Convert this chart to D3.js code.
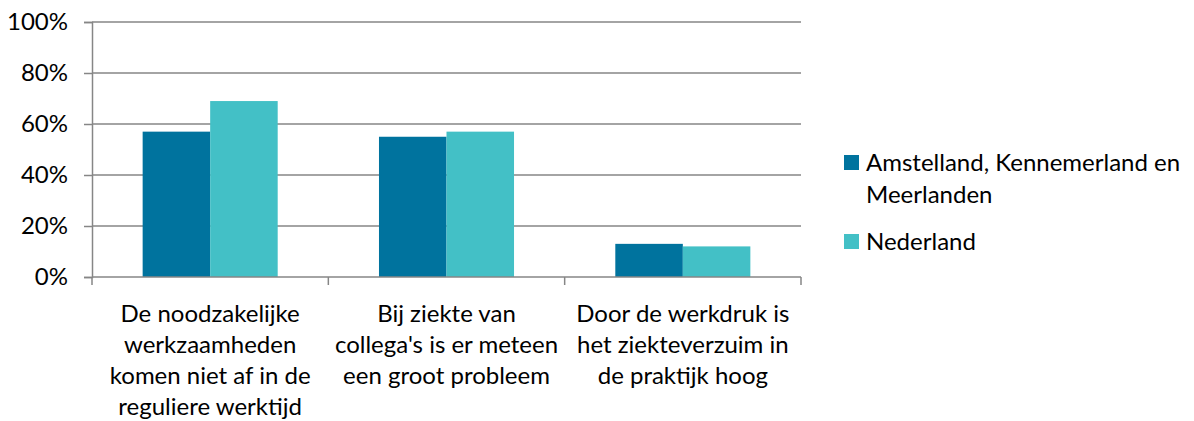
<!DOCTYPE html>
<html>
<head>
<meta charset="utf-8">
<script src="https://cdn.jsdelivr.net/npm/d3@7"></script>
<style>
  body { margin: 0; background: #fff; }
  text { font-family: Lato, "Noto Sans", sans-serif; fill: #000; }
</style>
</head>
<body>
<div id="vis"></div>
<script>
const FRAME_WIDTH = 1194;
const FRAME_HEIGHT = 421;
const MARGINS = {left: 92, right: 393, top: 22, bottom: 144};

// data
const categories = [
  ["De noodzakelijke", "werkzaamheden", "komen niet af in de", "reguliere werktijd"],
  ["Bij ziekte van", "collega's is er meteen", "een groot probleem"],
  ["Door de werkdruk is", "het ziekteverzuim in", "de praktijk hoog"]
];
const seriesNames = [["Amstelland, Kennemerland en", "Meerlanden"], ["Nederland"]];
const amstelland = [0.57, 0.55, 0.13];
const nederland = [0.69, 0.57, 0.12];
const yTicks = [0, 0.2, 0.4, 0.6, 0.8, 1.0];
const colors = ["#00739e", "#43c0c6"];

const VIS_WIDTH = FRAME_WIDTH - MARGINS.left - MARGINS.right;
const VIS_HEIGHT = FRAME_HEIGHT - MARGINS.top - MARGINS.bottom;

const svg = d3.select("#vis").append("svg")
  .attr("width", FRAME_WIDTH)
  .attr("height", FRAME_HEIGHT);

const g = svg.append("g")
  .attr("transform", "translate(" + MARGINS.left + "," + MARGINS.top + ")");

const X_SCALE = d3.scaleBand()
  .domain(d3.range(categories.length))
  .range([0, VIS_WIDTH])
  .paddingInner(0)
  .paddingOuter(0);

// Excel gap width 150%: two bars + 1.5 bar of gap per category
const side = X_SCALE.bandwidth() * 0.75 / 3.5;
const X_INNER = d3.scaleBand()
  .domain([0, 1])
  .range([side, X_SCALE.bandwidth() - side]);

const Y_SCALE = d3.scaleLinear()
  .domain([0, 1])
  .range([VIS_HEIGHT, 0]);

// y axis
const yAxis = g.append("g")
  .call(d3.axisLeft(Y_SCALE)
    .tickValues(yTicks)
    .tickFormat(d3.format(".0%"))
    .tickSize(8)
    .tickPadding(16));
yAxis.select(".domain").attr("stroke", "#868686").attr("stroke-width", 1.5);
yAxis.selectAll(".tick line").attr("stroke", "#868686").attr("stroke-width", 1.5);
yAxis.selectAll(".tick text").attr("font-size", "24px");

// gridlines
g.append("g").selectAll("line")
  .data(yTicks.filter(d => d > 0))
  .enter().append("line")
    .attr("x1", 0).attr("x2", VIS_WIDTH)
    .attr("y1", d => Y_SCALE(d)).attr("y2", d => Y_SCALE(d))
    .attr("stroke", "#868686").attr("stroke-width", 1.5);

// bars
const series = [amstelland, nederland];
series.forEach((vals, s) => {
  g.append("g").selectAll("rect")
    .data(vals)
    .enter().append("rect")
      .attr("x", (d, i) => X_SCALE(i) + X_INNER(s))
      .attr("y", d => Y_SCALE(d))
      .attr("width", X_INNER.bandwidth())
      .attr("height", d => VIS_HEIGHT - Y_SCALE(d))
      .attr("fill", colors[s]);
});

// x axis
const xAxis = g.append("g")
  .attr("transform", "translate(0," + VIS_HEIGHT + ")");
xAxis.append("line")
  .attr("x1", 0).attr("x2", VIS_WIDTH)
  .attr("stroke", "#868686").attr("stroke-width", 1.5);
xAxis.selectAll(".xtick")
  .data(d3.range(categories.length + 1))
  .enter().append("line")
    .attr("x1", d => d * X_SCALE.step()).attr("x2", d => d * X_SCALE.step())
    .attr("y1", 0).attr("y2", 8)
    .attr("stroke", "#868686").attr("stroke-width", 1.5);

const labels = xAxis.selectAll(".xlabel")
  .data(categories)
  .enter().append("text")
    .attr("text-anchor", "middle")
    .attr("font-size", "24px")
    .attr("transform", (d, i) => "translate(" + (X_SCALE(i) + X_SCALE.bandwidth() / 2) + ",45)");
labels.selectAll("tspan")
  .data(d => d)
  .enter().append("tspan")
    .attr("x", 0)
    .attr("y", (d, i) => i * 31)
    .text(d => d);

// legend
const legend = svg.append("g").attr("transform", "translate(844,155)");
const legendY = [0, 79];
seriesNames.forEach((name, s) => {
  const lg = legend.append("g").attr("transform", "translate(0," + legendY[s] + ")");
  lg.append("rect").attr("width", 15).attr("height", 15).attr("fill", colors[s]);
  const t = lg.append("text").attr("font-size", "24px");
  t.selectAll("tspan").data(name).enter().append("tspan")
    .attr("x", 22)
    .attr("y", (d, i) => 16 + i * 32)
    .text(d => d);
});
</script>
</body>
</html>
